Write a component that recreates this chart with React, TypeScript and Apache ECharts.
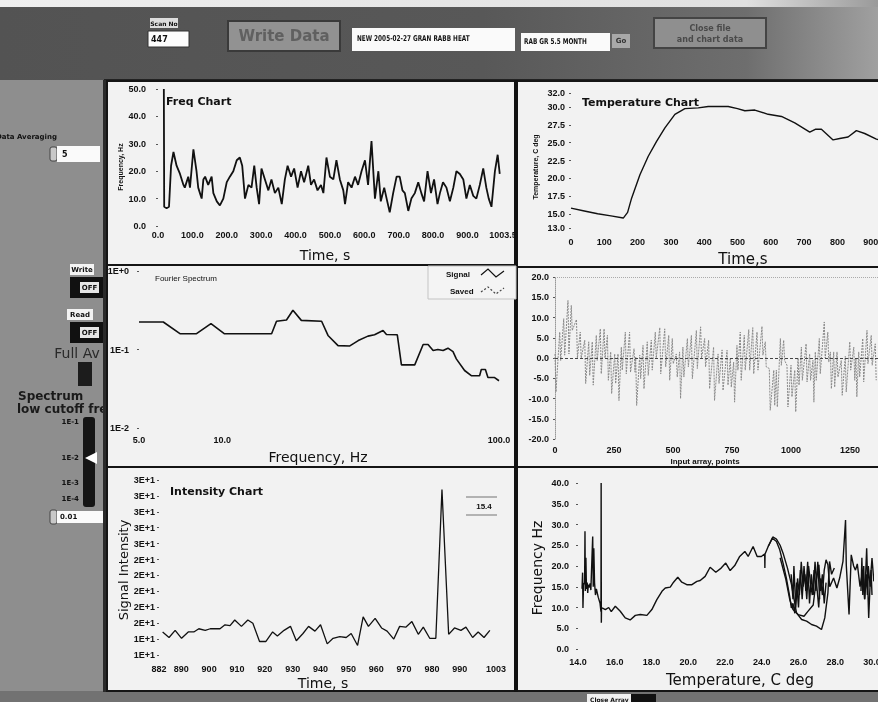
import React, { useEffect, useRef } from 'react';
import * as echarts from 'echarts';

// ---------- DATA ----------
// Freq Chart: [time s, frequency Hz]
const freqPoints: number[][] = [
  [17, 50], [18, 7], [25, 6.5], [32, 7], [38, 22], [45, 27], [54, 22], [64, 19], [74, 15], [78, 14],
  [88, 18], [93, 14], [103, 28], [112, 20], [117, 14], [122, 12], [127, 10], [132, 17], [137, 18], [146, 15],
  [156, 18], [161, 12], [171, 9], [180, 7.5], [190, 10], [200, 16], [209, 18], [219, 20], [229, 24], [238, 25],
  [245, 22], [253, 10], [263, 15], [272, 14], [280, 22], [287, 14], [294, 8], [301, 21], [311, 17], [321, 13],
  [330, 17], [340, 12], [350, 14], [360, 8], [369, 17], [377, 22], [387, 18], [396, 21], [406, 14], [416, 20],
  [425, 16], [437, 22], [445, 15], [454, 17], [464, 13], [474, 15], [481, 12], [490, 25], [500, 18], [510, 17],
  [519, 24], [529, 17], [539, 13], [544, 8], [553, 16], [563, 14], [573, 18], [582, 15], [592, 20], [602, 24],
  [611, 15], [621, 31], [631, 10], [641, 20], [648, 9], [658, 14], [665, 10], [674, 5], [684, 12], [694, 18],
  [703, 18], [711, 13], [718, 12], [728, 5.5], [737, 10], [747, 12], [757, 16], [766, 12], [774, 9], [784, 20],
  [794, 12], [803, 17], [813, 8], [820, 12], [829, 16], [839, 14], [849, 9], [859, 14], [868, 20], [878, 19],
  [888, 17], [897, 10], [907, 15], [917, 11], [926, 10], [936, 15], [946, 21], [955, 14], [962, 10], [970, 7],
  [980, 20], [988, 26], [994, 19]
];
const freqXTicks = [0, 100, 200, 300, 400, 500, 600, 700, 800, 900, 1003.5];

// Temperature Chart: [time s, temperature C]
const tempPoints: number[][] = [
  [0, 15.8], [40, 15.4], [80, 15.0], [120, 14.7], [157, 14.4], [170, 15.2], [182, 17.2], [207, 20.5],
  [232, 23.1], [257, 25.2], [282, 27.1], [312, 29.0], [342, 29.8], [382, 29.9], [412, 30.1], [472, 30.1],
  [500, 29.8], [522, 29.5], [552, 29.6], [592, 29.0], [632, 28.7], [672, 27.8], [717, 26.5], [735, 26.9],
  [752, 26.9], [787, 25.4], [807, 25.6], [832, 25.8], [857, 26.7], [882, 26.3], [917, 25.5], [950, 25.2]
];
const tempYTicks = [13, 15, 17.5, 20, 22.5, 25, 27.5, 30, 32];

// Fourier Spectrum: [frequency Hz, amplitude]
const specPoints: number[][] = [
  [5.0, 0.224], [6.12, 0.224], [7.03, 0.159], [8.07, 0.159], [9.1, 0.214], [10.16, 0.159], [15.07, 0.159],
  [15.7, 0.229], [17.06, 0.238], [18.0, 0.316], [19.3, 0.235], [22.85, 0.229], [24.1, 0.151], [26.2, 0.112],
  [28.9, 0.111], [31.0, 0.13], [33.6, 0.148], [35.5, 0.154], [38.1, 0.175], [39.2, 0.155], [42.9, 0.154],
  [44.4, 0.0637], [49.6, 0.0637], [53.2, 0.116], [55.4, 0.116], [57.8, 0.097], [60.1, 0.1], [62.8, 0.097],
  [65.4, 0.104], [68.2, 0.094], [70.1, 0.076], [75.1, 0.054], [79.4, 0.0464], [85.1, 0.0464], [86.3, 0.0555],
  [89.3, 0.0555], [91.2, 0.0441], [96.4, 0.0439], [100, 0.04]
];

// Input array: [point index, high, low] of each oscillation
const inputCols: number[][] = [
  [0, 1, -8.4], [20, 6.4, -0.6], [37, 9.7, 0.7], [55, 14.2, 1], [69, 13, 6.8], [91, 9.5, 0], [107, 6.4, 0],
  [126, 4.4, -6.3], [143, 4, -4.3], [158, 4, -6.7], [175, 5.6, -0.6], [192, 7.2, -3.9], [208, 7.2, 0],
  [222, 5.6, -5.5], [236, 1.5, -8.8], [253, 1, -6.3], [267, 1, -10.5], [281, 2.7, -3], [298, 6.4, -3.9],
  [316, 6.4, -3.5], [335, 2.3, -3.5], [342, 0.2, -11.7], [359, 0.7, -5.1], [373, 3.1, -7.6], [391, 4, -4.3],
  [408, 4.4, -3], [425, 6.4, 0], [444, 7.5, -3.9], [465, 7.2, -2.2], [482, 5.6, -5.5], [497, 4.8, -1.4],
  [514, 1, -4.7], [528, 1.5, -10], [542, 2.7, -4.7], [561, 4.8, -2.2], [578, 5.6, -5.1], [599, 6.8, -2.6],
  [617, 7.7, 0], [634, 4.8, -2.2], [651, 4.4, -7.6], [672, 2.7, -10.5], [691, 1, -6.3], [708, 2, -8],
  [729, 1.9, -6.7], [743, 0, -7.2], [757, -1, -10.9], [771, 3.1, -3], [785, 6.4, -5.5], [802, 5.6, -3],
  [821, 7, -3], [838, 7.5, -3.9], [856, 6.4, -3], [877, 7.8, 0.7], [891, 4, -2.2], [908, -2.6, -12.9],
  [927, -3, -11.7], [938, -3, -12.1], [955, 4.8, -1.8], [969, 4.4, -0.6], [983, -1.8, -12.1], [1000, -1.8, -9.6],
  [1016, -3, -13.3], [1030, 0, -6.7], [1044, 2.7, -5.5], [1064, 3.5, -5.9], [1079, 1, -5.5], [1093, -0.6, -10.9],
  [1103, 1.5, -5.5], [1120, 4.8, -3.9], [1141, 8.9, 0], [1156, 6.4, -1], [1167, 1.5, -7.6], [1181, 1.5, -7.2],
  [1195, 1.5, -4.7], [1213, -0.6, -9.2], [1230, 0.4, -8.4], [1249, 4, -3], [1266, 2.7, -5.5], [1275, 0, -9.6],
  [1287, 1.5, -4.7], [1304, 4.8, -5.9], [1322, 6.8, -1.4], [1340, 5.6, -1.8], [1357, 3.5, -5.5]
];

// Intensity Chart: [time s, signal]
const intensityPoints: number[][] = [
  [883.3, 13.9], [885.6, 13.2], [887.8, 14.1], [890.1, 13.1], [892.5, 13.9], [894.5, 13.9], [896.3, 14.3],
  [898.6, 14.1], [900.4, 14.3], [902.1, 14.3], [903.9, 14.3], [905.7, 14.8], [907.5, 14.7], [909.2, 15.4],
  [911.6, 14.6], [913.9, 15.4], [915.7, 15.0], [918.1, 12.7], [920.4, 12.7], [922.8, 13.9], [924.5, 13.4],
  [926.9, 14.1], [929.2, 14.6], [931.3, 12.8], [933.7, 13.7], [935.7, 14.6], [938, 14.0], [940, 14.8],
  [942.4, 12.4], [944.5, 13.1], [946.9, 13.3], [949.2, 13.2], [951, 13.7], [953.3, 12.2], [955.3, 15.8],
  [957.2, 14.6], [959.6, 15.6], [961.9, 14.4], [963.9, 14.0], [966.3, 13.0], [968.4, 14.6], [970.6, 14.5],
  [972.8, 15.2], [975.1, 13.6], [976.9, 14.5], [979.2, 13.1], [981.4, 13.1], [983.6, 31.8], [986, 13.6],
  [988.1, 14.4], [990.4, 14.1], [992.2, 14.5], [994.6, 13.2], [996.6, 13.9], [998.7, 13.2], [1000.8, 14.1]
];
const intensityXTicks = [882, 890, 900, 910, 920, 930, 940, 950, 960, 970, 980, 990, 1003];
const intensityYTicks = [11, 13, 15, 17, 19, 21, 23, 25, 27, 29, 31, 33];

// Frequency vs Temperature (XY graph): [temperature C, frequency Hz], several passes
const xyStart: number[][] = [
  [14.22, 14.5], [14.25, 18.4], [14.27, 9.9], [14.3, 15.5], [14.36, 16], [14.38, 28.4], [14.4, 14], [14.43, 22],
  [14.46, 14.5], [14.5, 16], [14.53, 13.5], [14.56, 15.5], [14.6, 14.8], [14.66, 15.8], [14.7, 14.2], [14.76, 22],
  [14.8, 27.1], [14.83, 15], [14.86, 24.3], [14.9, 16], [14.95, 13], [15.0, 14.5], [15.1, 12.5], [15.2, 11],
  [15.25, 9], [15.26, 40], [15.27, 6.3], [15.28, 10], [15.31, 9.9]
];
const xyRise: number[][] = [
  [15.31, 9.9], [15.49, 9.5], [15.67, 10], [15.81, 9], [16.03, 10.3], [16.3, 9.1], [16.57, 7.5], [16.84, 7],
  [17.12, 8.1], [17.39, 8.3], [17.75, 8.1], [18.02, 9.5], [18.29, 11.9], [18.57, 13.9], [18.75, 14.7], [19.02, 14.9],
  [19.2, 16.1], [19.43, 17.3], [19.65, 16.1], [19.92, 15.5], [20.2, 15.5], [20.47, 16.3], [20.65, 16.5], [20.92, 17.5],
  [21.19, 19.7], [21.5, 18.5], [21.79, 19.5], [22.04, 20.7], [22.28, 18.9], [22.53, 20.1], [22.8, 22.3], [23.08, 23.5],
  [23.26, 22.3], [23.53, 24.7], [23.75, 22.3], [23.98, 22.3], [24.16, 22.9], [24.17, 19.5], [24.18, 22.9], [24.35, 24.7],
  [24.58, 26.7], [24.8, 25.9], [24.98, 23.9], [25.16, 20.7], [25.34, 17.1], [25.52, 12.7], [25.61, 9.9], [25.7, 11],
  [25.8, 8.6], [25.9, 16], [26.0, 10], [26.1, 19], [26.2, 12], [26.3, 20], [26.4, 14], [26.5, 21], [26.6, 11],
  [26.7, 18], [26.8, 13], [26.9, 21], [27.0, 15], [27.1, 10], [27.2, 17], [27.3, 13], [27.4, 19], [27.5, 21.5],
  [27.6, 20.3], [27.7, 15], [27.91, 17.1], [28.09, 14.7], [28.24, 17.1], [28.42, 21.1], [28.56, 31.1], [28.6, 20.3],
  [28.75, 8.3], [28.87, 22.7], [29.0, 20], [29.1, 19], [29.2, 20.5], [29.35, 15], [29.5, 19], [29.6, 12],
  [29.71, 24.3], [29.82, 7.5], [29.9, 16], [30.0, 21.9], [30.1, 16.3]
];
const xyLoopA: number[][] = [
  [24.35, 24.7], [24.6, 27], [24.8, 26.5], [25.0, 25], [25.16, 23.1], [25.4, 19.5], [25.62, 15.5], [25.89, 8.7],
  [26.17, 7.1], [26.44, 6.7], [26.71, 5.9], [26.98, 5.5], [27.25, 4.7], [27.43, 7.5], [27.6, 13.5], [27.69, 21.1],
  [27.8, 18], [27.95, 19.5]
];
const xyLoopB: number[][] = [
  [25.0, 22], [25.3, 17], [25.52, 12], [25.7, 9.5], [25.98, 8.3], [26.3, 7.9], [26.5, 9], [26.8, 10.6],
  [27.0, 17.9], [27.11, 20.3], [27.2, 14], [27.3, 18], [27.4, 11], [27.5, 16]
];
const xyLoopC: number[][] = [
  [25.6, 18], [25.7, 12], [25.75, 20], [25.85, 10], [25.95, 17], [26.05, 13], [26.15, 21], [26.25, 15],
  [26.35, 18], [26.45, 12], [26.55, 20], [26.65, 16], [26.75, 13], [26.85, 19], [26.95, 14], [27.05, 21], [27.15, 12]
];
const xyEnd: number[][] = [
  [29.4, 14], [29.45, 22], [29.5, 13], [29.55, 20], [29.6, 12], [29.7, 18], [29.75, 13], [29.8, 20],
  [29.9, 15], [29.95, 19], [30.0, 13]
];

// ---------- STYLE HELPERS ----------
const FONT = 'DejaVu Sans';
const COND = '"Liberation Sans Narrow", "Liberation Sans", Arial, sans-serif';
const tick = { fontFamily: COND, fontSize: 9, fontWeight: 'bold' as const, color: '#111' };
const noLine = { show: false };
const smallTick = { show: true, length: 2, lineStyle: { color: '#555' } };

function txt(x: number, y: number, text: string, size: number, opts: any = {}) {
  return {
    type: 'text',
    x, y,
    z: opts.z ?? 20,
    rotation: opts.rotation ?? 0,
    scaleX: opts.scaleX ?? 1,
    style: {
      text,
      fill: opts.fill ?? '#111',
      fontFamily: opts.family ?? FONT,
      fontSize: size,
      fontWeight: opts.weight ?? 'normal',
      align: opts.align ?? 'left',
      verticalAlign: 'middle'
    }
  };
}
function rect(x: number, y: number, w: number, h: number, fill: any, z: number, extra: any = {}) {
  return {
    type: 'rect',
    z,
    shape: { x, y, width: w, height: h, r: extra.r ?? 0 },
    style: { fill, stroke: extra.stroke ?? null, lineWidth: extra.lineWidth ?? 1 }
  };
}
function poly(points: number[][], stroke: string, z: number, dash?: number[]) {
  return {
    type: 'polyline', z,
    shape: { points },
    style: { stroke, lineWidth: 1.2, fill: null, lineDash: dash ?? null }
  };
}

function buildOption() {
  const inputLine: number[][] = [];
  inputCols.forEach((c) => {
    inputLine.push([c[0], c[1]]);
    inputLine.push([c[0] + 4, c[2]]);
  });

  const bg = [
    rect(0, 0, 960, 702, '#8c8c8c', -100),
    rect(0, 0, 878, 7, new echarts.graphic.LinearGradient(0, 0, 1, 0, [
      { offset: 0, color: '#efefef' }, { offset: 0.85, color: '#e0e0e0' }, { offset: 1, color: '#9a9a9a' }
    ]), -99),
    rect(0, 7, 878, 73, new echarts.graphic.LinearGradient(0, 0, 1, 0, [
      { offset: 0, color: '#535353' }, { offset: 0.55, color: '#585858' }, { offset: 0.85, color: '#6e6e6e' }, { offset: 1, color: '#a0a0a0' }
    ]), -98),
    rect(0, 80, 104, 612, '#8e8e8e', -97),
    rect(0, 691, 878, 11, '#727272', -97)
  ];

  const left = [
    txt(57, 137, 'Data Averaging', 7, { align: 'right', weight: 'bold', z: -80 }),
    rect(50, 147, 7, 14, '#c8c8c8', -80, { stroke: '#444', r: 2 }),
    rect(57, 146, 43, 16, '#fafafa', -80),
    txt(62, 154, '5', 8, { weight: 'bold', z: -79 }),
    rect(70, 264, 24, 11, '#f3f3f3', -80),
    txt(82, 269.5, 'Write', 7, { align: 'center', weight: 'bold', z: -79 }),
    rect(70, 277, 33, 21, '#111', -80),
    rect(80, 282, 19, 11, '#e6e6e6', -79),
    txt(89.5, 287.5, 'OFF', 7, { align: 'center', weight: 'bold', z: -78 }),
    rect(67, 309, 26, 11, '#f3f3f3', -80),
    txt(80, 314.5, 'Read', 7, { align: 'center', weight: 'bold', z: -79 }),
    rect(70, 322, 33, 21, '#111', -80),
    rect(80, 327, 19, 11, '#e6e6e6', -79),
    txt(89.5, 332.5, 'OFF', 7, { align: 'center', weight: 'bold', z: -78 }),
    txt(77, 353, 'Full Av', 14, { align: 'center', fill: '#2a2a2a', z: -79 }),
    rect(78, 362, 14, 24, '#1c1c1c', -80),
    txt(18, 396, 'Spectrum', 12, { weight: 'bold', fill: '#1a1a1a', z: -79 }),
    txt(17, 409, 'low cutoff freq', 12, { weight: 'bold', fill: '#1a1a1a', z: -79 }),
    rect(83, 417, 12, 90, '#151515', -80, { r: 3 }),
    txt(79, 422, '1E-1', 7, { align: 'right', weight: 'bold', z: -79 }),
    txt(79, 458, '1E-2', 7, { align: 'right', weight: 'bold', z: -79 }),
    txt(79, 483, '1E-3', 7, { align: 'right', weight: 'bold', z: -79 }),
    txt(79, 499, '1E-4', 7, { align: 'right', weight: 'bold', z: -79 }),
    { type: 'polygon', z: -78, shape: { points: [[85, 458], [97, 452], [97, 464]] }, style: { fill: '#ffffff' } },
    rect(50, 510, 7, 14, '#c8c8c8', -80, { stroke: '#444', r: 2 }),
    rect(57, 511, 46, 12, '#fafafa', -80),
    txt(60, 517, '0.01', 7, { weight: 'bold', z: -79 })
  ];

  const top = [
    rect(150, 18, 28, 10, '#dcdcdc', 5),
    txt(164, 23, 'Scan No', 6, { align: 'center', weight: 'bold', z: 6 }),
    rect(148, 31, 41, 16, '#fdfdfd', 5, { stroke: '#333' }),
    txt(151, 39, '447', 8, { weight: 'bold', z: 6 }),
    rect(228, 21, 112, 30, '#929292', 5, { stroke: '#3a3a3a', lineWidth: 2 }),
    txt(284, 36, 'Write Data', 15, { align: 'center', weight: 'bold', fill: '#606060', z: 6 }),
    rect(352, 28, 163, 23, '#fafafa', 5),
    txt(357, 39, 'NEW 2005-02-27 GRAN RABB HEAT', 8, { weight: 'bold', z: 6, scaleX: 0.72 }),
    rect(521, 33, 89, 18, '#fafafa', 5),
    txt(524, 42, 'RAB GR 5.5 MONTH', 8, { weight: 'bold', z: 6, scaleX: 0.72 }),
    rect(612, 34, 18, 14, '#a8a8a8', 5),
    txt(621, 41, 'Go', 7, { align: 'center', weight: 'bold', fill: '#333', z: 6 }),
    rect(654, 18, 112, 30, '#8f8f8f', 5, { stroke: '#444', lineWidth: 2 }),
    txt(710, 28, 'Close file', 8, { align: 'center', weight: 'bold', fill: '#4a4a4a', z: 6 }),
    txt(710, 39, 'and chart data', 8, { align: 'center', weight: 'bold', fill: '#4a4a4a', z: 6 }),
    rect(587, 694, 44, 8, '#f0f0f0', 5),
    txt(590, 699, 'Close Array', 6, { weight: 'bold', z: 6 }),
    rect(631, 694, 25, 8, '#111', 5)
  ];

  const panels = [
    rect(104, 79, 856, 3, '#222', -60),
    rect(107, 81, 410, 184, '#f2f2f2', -50, { stroke: '#151515', lineWidth: 2 }),
    rect(517, 81, 445, 186, '#f2f2f2', -50, { stroke: '#151515', lineWidth: 2 }),
    rect(107, 265, 410, 202, '#f2f2f2', -50, { stroke: '#151515', lineWidth: 2 }),
    rect(517, 267, 445, 200, '#f2f2f2', -50, { stroke: '#151515', lineWidth: 2 }),
    rect(107, 467, 410, 224, '#f2f2f2', -50, { stroke: '#151515', lineWidth: 2 }),
    rect(517, 467, 445, 224, '#f2f2f2', -50, { stroke: '#151515', lineWidth: 2 }),
    rect(103, 80, 3, 612, '#2a2a2a', -45),
    rect(514, 80, 4, 612, '#111', -45)
  ];

  const labels = [
    txt(166, 101, 'Freq Chart', 11, { weight: 'bold' }),
    txt(120, 167, 'Frequency, Hz', 7, { align: 'center', weight: 'bold', rotation: Math.PI / 2, family: COND }),
    txt(325, 255, 'Time, s', 14, { align: 'center' }),
    txt(582, 102, 'Temperature Chart', 11, { weight: 'bold' }),
    txt(535, 167, 'Temperature, C deg', 7, { align: 'center', weight: 'bold', rotation: Math.PI / 2, family: COND }),
    txt(743, 259, 'Time,s', 15, { align: 'center' }),
    txt(155, 278, 'Fourier Spectrum', 8, { family: COND }),
    txt(318, 457, 'Frequency, Hz', 14, { align: 'center' }),
    rect(428, 266, 88, 33, '#f4f4f4', 15, { stroke: '#c4c4c4' }),
    txt(446, 274, 'Signal', 8, { weight: 'bold', family: COND }),
    txt(450, 291, 'Saved', 8, { weight: 'bold', family: COND }),
    poly([[481, 275], [488, 269], [496, 277], [504, 271]], '#111', 21),
    poly([[481, 292], [488, 287], [496, 294], [504, 288]], '#444', 21, [2, 2]),
    txt(705, 461, 'Input array, points', 8, { align: 'center', weight: 'bold', family: COND }),
    txt(170, 491, 'Intensity Chart', 11, { weight: 'bold' }),
    txt(123, 570, 'Signal Intensity', 13, { align: 'center', rotation: Math.PI / 2 }),
    txt(323, 683, 'Time, s', 14, { align: 'center' }),
    poly([[466, 497], [497, 497]], '#888', 21),
    poly([[466, 515], [497, 515]], '#888', 21),
    txt(484, 506, '15.4', 8, { align: 'center', weight: 'bold', family: COND }),
    txt(537, 568, 'Frequency Hz', 14, { align: 'center', rotation: Math.PI / 2 }),
    txt(740, 680, 'Temperature, C deg', 15, { align: 'center' })
  ];

  const blackLine = (w: number) => ({ color: '#111', width: w });

  return {
    animation: false,
    textStyle: { fontFamily: FONT },
    graphic: { elements: [...bg, ...left, ...panels, ...top, ...labels] },
    grid: [
      { left: 158, top: 89, width: 345, height: 137 },
      { left: 571, top: 93, width: 333, height: 135 },
      { left: 139, top: 271, width: 360, height: 157 },
      { left: 555, top: 277, width: 354, height: 162 },
      { left: 159, top: 480, width: 337, height: 175 },
      { left: 578, top: 483, width: 294, height: 166 }
    ],
    xAxis: [
      {
        gridIndex: 0, type: 'value', min: 0, max: 1003.5,
        axisLine: noLine, splitLine: noLine, axisTick: { show: false },
        axisLabel: { ...tick, margin: 4, customValues: freqXTicks, formatter: (v: number) => v.toFixed(1) }
      },
      {
        gridIndex: 1, type: 'value', min: 0, max: 1000, interval: 100,
        axisLine: noLine, splitLine: noLine, axisTick: { show: false },
        axisLabel: { ...tick, margin: 9, formatter: (v: number) => String(v) }
      },
      {
        gridIndex: 2, type: 'log', logBase: 10, min: 5, max: 100,
        axisLine: noLine, splitLine: noLine, axisTick: { show: false }, minorTick: { show: false },
        axisLabel: { ...tick, margin: 7, formatter: (v: number) => v.toFixed(1) }
      },
      {
        gridIndex: 3, type: 'value', min: 0, max: 1500, interval: 250,
        axisLine: noLine, splitLine: noLine, axisTick: { show: false },
        axisLabel: { ...tick, margin: 6, formatter: (v: number) => String(v) }
      },
      {
        gridIndex: 4, type: 'value', min: 882, max: 1003,
        axisLine: noLine, splitLine: noLine, axisTick: { show: false },
        axisLabel: { ...tick, margin: 9, customValues: intensityXTicks, formatter: (v: number) => String(v) }
      },
      {
        gridIndex: 5, type: 'value', min: 14, max: 30, interval: 2,
        axisLine: noLine, splitLine: noLine, axisTick: { show: false },
        axisLabel: { ...tick, margin: 8, formatter: (v: number) => v.toFixed(1) }
      }
    ],
    yAxis: [
      {
        gridIndex: 0, type: 'value', min: 0, max: 50, interval: 10,
        axisLine: noLine, splitLine: noLine, axisTick: smallTick,
        axisLabel: { ...tick, margin: 12, formatter: (v: number) => v.toFixed(1) }
      },
      {
        gridIndex: 1, type: 'value', min: 13, max: 32,
        axisLine: noLine, splitLine: noLine,
        axisTick: { ...smallTick, customValues: tempYTicks },
        axisLabel: { ...tick, margin: 6, customValues: tempYTicks, formatter: (v: number) => v.toFixed(1) }
      },
      {
        gridIndex: 2, type: 'log', logBase: 10, min: 0.01, max: 1,
        axisLine: noLine, splitLine: noLine, axisTick: smallTick, minorTick: { show: false },
        axisLabel: { ...tick, margin: 10, formatter: (v: number) => v.toExponential(0).toUpperCase() }
      },
      {
        gridIndex: 3, type: 'value', min: -20, max: 20, interval: 5,
        axisLine: { show: true, lineStyle: { color: '#999', type: 'dotted' } }, splitLine: noLine, axisTick: smallTick,
        axisLabel: { ...tick, margin: 6, formatter: (v: number) => v.toFixed(1) }
      },
      {
        gridIndex: 4, type: 'value', min: 11, max: 33,
        axisLine: noLine, splitLine: noLine,
        axisTick: { ...smallTick, customValues: intensityYTicks },
        axisLabel: { ...tick, margin: 4, customValues: intensityYTicks, formatter: (v: number) => v.toExponential(0).toUpperCase() }
      },
      {
        gridIndex: 5, type: 'value', min: 0, max: 40, interval: 5,
        axisLine: noLine, splitLine: noLine, axisTick: smallTick,
        axisLabel: { ...tick, margin: 9, formatter: (v: number) => v.toFixed(1) }
      }
    ],
    series: [
      { type: 'line', name: 'Frequency', xAxisIndex: 0, yAxisIndex: 0, data: freqPoints, showSymbol: false, lineStyle: blackLine(1.8) },
      { type: 'line', name: 'Temperature', xAxisIndex: 1, yAxisIndex: 1, data: tempPoints, showSymbol: false, lineStyle: blackLine(1.4) },
      { type: 'line', name: 'Signal', xAxisIndex: 2, yAxisIndex: 2, data: specPoints, showSymbol: false, lineStyle: blackLine(1.6) },
      {
        type: 'line', name: 'Input array', xAxisIndex: 3, yAxisIndex: 3, data: inputLine, showSymbol: false,
        lineStyle: { color: '#8a8a8a', width: 1, type: [2, 1] },
        markLine: {
          silent: true, symbol: 'none', label: { show: false },
          data: [
            { yAxis: 0, lineStyle: { color: '#444', type: [3, 2], width: 1 } },
            { yAxis: 20, lineStyle: { color: '#aaa', type: 'dotted', width: 1 } }
          ]
        }
      },
      { type: 'line', name: 'Intensity', xAxisIndex: 4, yAxisIndex: 4, data: intensityPoints, showSymbol: false, lineStyle: blackLine(1.3) },
      { type: 'line', name: 'XY start', xAxisIndex: 5, yAxisIndex: 5, data: xyStart, showSymbol: false, lineStyle: blackLine(1.4) },
      { type: 'line', name: 'XY rise', xAxisIndex: 5, yAxisIndex: 5, data: xyRise, showSymbol: false, lineStyle: blackLine(1.4) },
      { type: 'line', name: 'XY loop A', xAxisIndex: 5, yAxisIndex: 5, data: xyLoopA, showSymbol: false, lineStyle: blackLine(1.4) },
      { type: 'line', name: 'XY loop B', xAxisIndex: 5, yAxisIndex: 5, data: xyLoopB, showSymbol: false, lineStyle: blackLine(1.4) },
      { type: 'line', name: 'XY loop C', xAxisIndex: 5, yAxisIndex: 5, data: xyLoopC, showSymbol: false, lineStyle: blackLine(1.4) },
      { type: 'line', name: 'XY end', xAxisIndex: 5, yAxisIndex: 5, data: xyEnd, showSymbol: false, lineStyle: blackLine(1.4) }
    ]
  };
}

export default function App() {
  const ref = useRef<HTMLDivElement>(null);
  useEffect(() => {
    if (!ref.current) return;
    const chart = echarts.init(ref.current, null, { renderer: 'svg' });
    chart.setOption(buildOption() as any);
    return () => chart.dispose();
  }, []);
  return (
    <div style={{ position: 'fixed', left: 0, top: 0, width: 878, height: 702, overflow: 'hidden' }}>
      <div ref={ref} style={{ width: 960, height: 702 }} />
    </div>
  );
}
